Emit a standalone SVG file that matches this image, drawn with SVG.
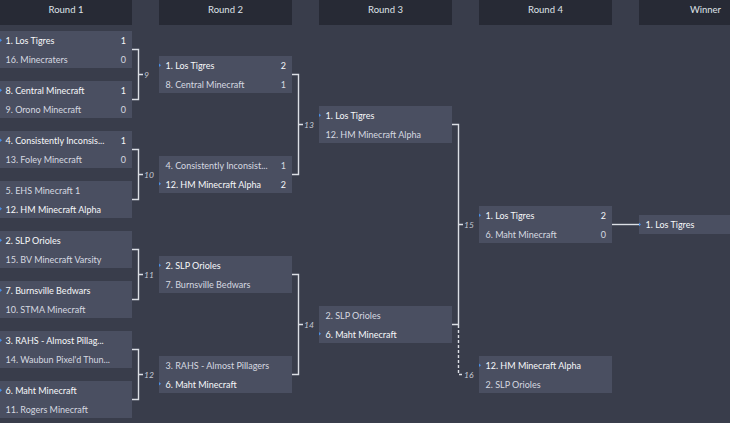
<svg xmlns="http://www.w3.org/2000/svg" width="730" height="423" viewBox="0 0 730 423">
<style>
.bg{fill:#393d4b}
.hd{fill:#272a35}
.ht{font-family:Lato,"Liberation Sans",sans-serif;font-size:9.5px;fill:#dfe2e8;text-anchor:middle}
.bx{fill:#4a4f61}
.t{font-family:Lato,"Liberation Sans",sans-serif;font-size:9px;fill:#d6d9e0}
.w{fill:#f7f8fa}
.s{text-anchor:end}
.mk{fill:#4a8fe6}
.ln{fill:none;stroke:#dcdfe5;stroke-width:1.4}
.dl{fill:none;stroke:#dcdfe5;stroke-width:1.4;stroke-dasharray:3 2}
.lb{font-family:Lato,"Liberation Sans",sans-serif;font-size:8.5px;font-style:italic;fill:#c5c9d3}
</style>
<rect class="bg" x="0" y="0" width="730" height="423"/>
<g id="headers">
<rect class="hd" x="0" y="0" width="132" height="25"/>
<rect class="hd" x="159" y="0" width="133" height="25"/>
<rect class="hd" x="319" y="0" width="133" height="25"/>
<rect class="hd" x="479" y="0" width="133" height="25"/>
<rect class="hd" x="639" y="0" width="133" height="25"/>
<text class="ht" x="66" y="13.3">Round 1</text>
<text class="ht" x="225.5" y="13.3">Round 2</text>
<text class="ht" x="385.5" y="13.3">Round 3</text>
<text class="ht" x="545.5" y="13.3">Round 4</text>
<text class="ht" x="705.5" y="13.3">Winner</text>
</g>
<g id="connectors">
<path class="ln" d="M132 49.5H138.5V99.5H132M138.5 74.5H143"/>
<path class="ln" d="M132 149.5H138.5V199.5H132M138.5 174.5H143"/>
<path class="ln" d="M132 249.5H138.5V299.5H132M138.5 274.5H143"/>
<path class="ln" d="M132 349.5H138.5V399.5H132M138.5 374.5H143"/>
<path class="ln" d="M292 74.5H298.5V174.5H292M298.5 124.5H303"/>
<path class="ln" d="M292 274.5H298.5V374.5H292M298.5 324.5H303"/>
<path class="ln" d="M452 124.5H458.5V324.5H452M458.5 224.5H463"/>
<path class="dl" d="M458.5 325V374.5H463"/>
<path class="ln" d="M612 224.5H639"/>
<text class="lb" x="144" y="77.5">9</text>
<text class="lb" x="144" y="177.5">10</text>
<text class="lb" x="144" y="277.5">11</text>
<text class="lb" x="144" y="377.5">12</text>
<text class="lb" x="304" y="127.5">13</text>
<text class="lb" x="304" y="327.5">14</text>
<text class="lb" x="464" y="227.5">15</text>
<text class="lb" x="464" y="377.5">16</text>
</g>
<g id="m1">
<rect class="bx" x="0" y="31" width="132" height="37"/>
<path class="mk" d="M0 38.5L2 40.2L0 42Z"/>
<text class="t w" x="5.5" y="44">1. Los Tigres</text><text class="t w s" x="126" y="44">1</text>
<text class="t" x="5.5" y="63">16. Minecraters</text><text class="t s" x="126" y="63">0</text>
</g>
<g id="m2">
<rect class="bx" x="0" y="81" width="132" height="37"/>
<path class="mk" d="M0 88.5L2 90.2L0 92Z"/>
<text class="t w" x="5.5" y="94">8. Central Minecraft</text><text class="t w s" x="126" y="94">1</text>
<text class="t" x="5.5" y="113">9. Orono Minecraft</text><text class="t s" x="126" y="113">0</text>
</g>
<g id="m3">
<rect class="bx" x="0" y="131" width="132" height="37"/>
<path class="mk" d="M0 138.5L2 140.2L0 142Z"/>
<text class="t w" x="5.5" y="144">4. Consistently Inconsis...</text><text class="t w s" x="126" y="144">1</text>
<text class="t" x="5.5" y="163">13. Foley Minecraft</text><text class="t s" x="126" y="163">0</text>
</g>
<g id="m4">
<rect class="bx" x="0" y="181" width="132" height="37"/>
<path class="mk" d="M0 207L2 208.7L0 210.5Z"/>
<text class="t" x="5.5" y="194">5. EHS Minecraft 1</text>
<text class="t w" x="5.5" y="213">12. HM Minecraft Alpha</text>
</g>
<g id="m5">
<rect class="bx" x="0" y="231" width="132" height="37"/>
<path class="mk" d="M0 238.5L2 240.2L0 242Z"/>
<text class="t w" x="5.5" y="244">2. SLP Orioles</text>
<text class="t" x="5.5" y="263">15. BV Minecraft Varsity</text>
</g>
<g id="m6">
<rect class="bx" x="0" y="281" width="132" height="37"/>
<path class="mk" d="M0 288.5L2 290.2L0 292Z"/>
<text class="t w" x="5.5" y="294">7. Burnsville Bedwars</text>
<text class="t" x="5.5" y="313">10. STMA Minecraft</text>
</g>
<g id="m7">
<rect class="bx" x="0" y="331" width="132" height="37"/>
<path class="mk" d="M0 338.5L2 340.2L0 342Z"/>
<text class="t w" x="5.5" y="344">3. RAHS - Almost Pillag...</text>
<text class="t" x="5.5" y="363">14. Waubun Pixel'd Thun...</text>
</g>
<g id="m8">
<rect class="bx" x="0" y="381" width="132" height="37"/>
<path class="mk" d="M0 388.5L2 390.2L0 392Z"/>
<text class="t w" x="5.5" y="394">6. Maht Minecraft</text>
<text class="t" x="5.5" y="413">11. Rogers Minecraft</text>
</g>
<g id="m9">
<rect class="bx" x="159" y="56" width="133" height="37"/>
<path class="mk" d="M159 63.5L161 65.2L159 67Z"/>
<text class="t w" x="165.5" y="69">1. Los Tigres</text><text class="t w s" x="286" y="69">2</text>
<text class="t" x="165.5" y="88">8. Central Minecraft</text><text class="t s" x="286" y="88">1</text>
</g>
<g id="m10">
<rect class="bx" x="159" y="156" width="133" height="37"/>
<path class="mk" d="M159 182L161 183.7L159 185.5Z"/>
<text class="t" x="165.5" y="169">4. Consistently Inconsist...</text><text class="t s" x="286" y="169">1</text>
<text class="t w" x="165.5" y="188">12. HM Minecraft Alpha</text><text class="t w s" x="286" y="188">2</text>
</g>
<g id="m11">
<rect class="bx" x="159" y="256" width="133" height="37"/>
<path class="mk" d="M159 263.5L161 265.2L159 267Z"/>
<text class="t w" x="165.5" y="269">2. SLP Orioles</text>
<text class="t" x="165.5" y="288">7. Burnsville Bedwars</text>
</g>
<g id="m12">
<rect class="bx" x="159" y="356" width="133" height="37"/>
<path class="mk" d="M159 382L161 383.7L159 385.5Z"/>
<text class="t" x="165.5" y="369">3. RAHS - Almost Pillagers</text>
<text class="t w" x="165.5" y="388">6. Maht Minecraft</text>
</g>
<g id="m13">
<rect class="bx" x="319" y="106" width="133" height="37"/>
<path class="mk" d="M319 113.5L321 115.2L319 117Z"/>
<text class="t w" x="325.5" y="119">1. Los Tigres</text>
<text class="t" x="325.5" y="138">12. HM Minecraft Alpha</text>
</g>
<g id="m14">
<rect class="bx" x="319" y="306" width="133" height="37"/>
<path class="mk" d="M319 332L321 333.7L319 335.5Z"/>
<text class="t" x="325.5" y="319">2. SLP Orioles</text>
<text class="t w" x="325.5" y="338">6. Maht Minecraft</text>
</g>
<g id="m15">
<rect class="bx" x="479" y="206" width="133" height="37"/>
<path class="mk" d="M479 213.5L481 215.2L479 217Z"/>
<text class="t w" x="485.5" y="219">1. Los Tigres</text><text class="t w s" x="606" y="219">2</text>
<text class="t" x="485.5" y="238">6. Maht Minecraft</text><text class="t s" x="606" y="238">0</text>
</g>
<g id="m16">
<rect class="bx" x="479" y="356" width="133" height="37"/>
<path class="mk" d="M479 363.5L481 365.2L479 367Z"/>
<text class="t w" x="485.5" y="369">12. HM Minecraft Alpha</text>
<text class="t" x="485.5" y="388">2. SLP Orioles</text>
</g>
<g id="winner">
<rect class="bx" x="639" y="215" width="133" height="19"/>
<path class="mk" d="M639 222.7L641 224.4L639 226.2Z"/>
<text class="t w" x="645.5" y="227.7">1. Los Tigres</text>
</g>
</svg>
